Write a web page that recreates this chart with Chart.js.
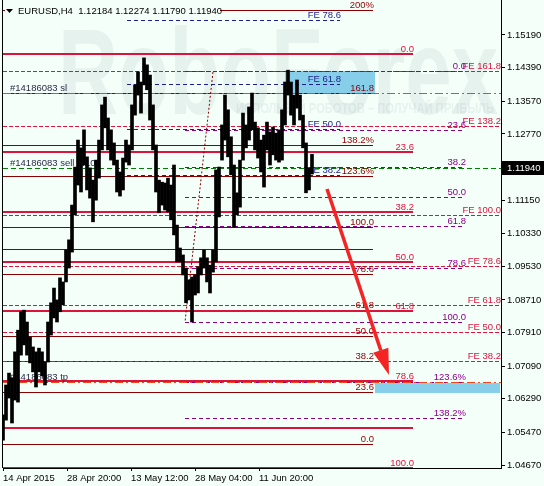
<!DOCTYPE html>
<html>
<head>
<meta charset="utf-8">
<script src="https://cdn.jsdelivr.net/npm/chart.js@4.4.0/dist/chart.umd.min.js"></script>
<style>
  html, body { margin: 0; padding: 0; background: #f5fffa; }
  #wrap { width: 544px; height: 486px; }
</style>
</head>
<body>
<div id="wrap"><canvas id="priceChart" width="544" height="486"></canvas></div>
<script>
// --------- DATA ----------
const seriesTitle = "EURUSD,H4  1.12184 1.12274 1.11790 1.11940";
const lastPrice = 1.11940;
const barStep = 3; // one sample every 3 H4 bars

const barLows = [
  1.0528, 1.0577, 1.0631, 1.0570, 1.0626, 1.0621, 1.0736, 1.0761, 1.0736, 1.0717,
  1.0695, 1.0658, 1.0695, 1.0685, 1.0663, 1.0719, 1.0785, 1.0827, 1.0817, 1.0842,
  1.0859, 1.0915, 1.0949, 1.0988, 1.1079, 1.1152, 1.1135, 1.1201, 1.1140, 1.1120,
  1.1062, 1.1115, 1.1169, 1.1238, 1.1292, 1.1238, 1.1213, 1.1201, 1.1135, 1.1125,
  1.1140, 1.1208, 1.1201, 1.1238, 1.1323, 1.1372, 1.1328, 1.1397, 1.1385, 1.1311,
  1.1238, 1.1135, 1.1084, 1.1103, 1.1091, 1.1086, 1.1067, 1.1030, 1.0964, 1.0964,
  1.0932, 1.0864, 1.0871, 1.0817, 1.0883, 1.0888, 1.0932, 1.0949, 1.0915, 1.0888,
  1.0939, 1.0964, 1.1074, 1.1213, 1.1262, 1.1221, 1.1177, 1.1049, 1.1079, 1.1098,
  1.1213, 1.1243, 1.1262, 1.1287, 1.1238, 1.1218, 1.1184, 1.1147, 1.1238, 1.1201,
  1.1226, 1.1213, 1.1208, 1.1213, 1.1299, 1.1372, 1.1323, 1.1299, 1.1340, 1.1311,
  1.1243, 1.1133, 1.1140, 1.1179
];
const barHighs = [
  1.0590, 1.0663, 1.0692, 1.0680, 1.0744, 1.0797, 1.0842, 1.0846, 1.0817, 1.0780,
  1.0756, 1.0744, 1.0753, 1.0744, 1.0719, 1.0817, 1.0864, 1.0900, 1.0871, 1.0925,
  1.0915, 1.0993, 1.1018, 1.1103, 1.1196, 1.1262, 1.1243, 1.1287, 1.1221, 1.1194,
  1.1164, 1.1213, 1.1262, 1.1348, 1.1367, 1.1316, 1.1287, 1.1255, 1.1213, 1.1184,
  1.1218, 1.1262, 1.1250, 1.1348, 1.1397, 1.1429, 1.1404, 1.1463, 1.1446, 1.1421,
  1.1348, 1.1250, 1.1164, 1.1159, 1.1157, 1.1169, 1.1152, 1.1201, 1.1054, 1.0998,
  1.0981, 1.0949, 1.0920, 1.0927, 1.0932, 1.0952, 1.0974, 1.0993, 1.0974, 1.0956,
  1.0993, 1.1189, 1.1196, 1.1299, 1.1372, 1.1336, 1.1270, 1.1201, 1.1133, 1.1213,
  1.1328, 1.1299, 1.1343, 1.1377, 1.1306, 1.1292, 1.1262, 1.1274, 1.1306, 1.1282,
  1.1294, 1.1279, 1.1287, 1.1336, 1.1404, 1.1433, 1.1404, 1.1372, 1.1409, 1.1372,
  1.1323, 1.1255, 1.1194, 1.1227
];

const timeTickBars = [0, 64, 128, 192, 256];
const timeTickLabels = ["14 Apr 2015", "28 Apr 20:00", "13 May 12:00", "28 May 04:00", "11 Jun 20:00"];
const priceTicks = [1.15190, 1.14390, 1.13570, 1.12770, 1.11950, 1.11150, 1.10330,
                    1.09530, 1.08710, 1.07910, 1.07090, 1.06290, 1.05470, 1.04670];

// fibo levels
const retrPrices = [1.14725, 1.12340, 1.10861, 1.09638, 1.08439, 1.06727, 1.04599, 1.05578];
const retrLabels = ["0.0", "23.6", "38.2", "50.0", "61.8", "78.6", "100.0", ""];
const fibo2Prices = [1.15801, 1.13771, 1.12499, 1.11741, 1.10494, 1.09956, 1.09344, 1.08464, 1.07827, 1.07216, 1.06458, 1.05186];
const fibo2Labels = ["200%", "161.8", "138.2%", "123.6%", "100.0", "", "78.6", "61.8", "50.0", "38.2", "23.6", "0.0"];
const fibo3Prices = [1.14309, 1.12866, 1.11961, 1.11227, 1.10518, 1.09491, 1.08170, 1.06703, 1.05822];
const fibo3Labels = ["0.0", "23.6", "38.2", "50.0", "61.8", "78.6", "100.0", "123.6%", "138.2%"];
const feRedPrices = [1.14309, 1.12964, 1.10787, 1.09540, 1.08586, 1.07925, 1.07216];
const feRedLabels = ["FE 161.8", "FE 138.2", "FE 100.0", "FE 78.6", "FE 61.8", "FE 50.0", "FE 38.2"];
const feBluePrices = [1.15557, 1.13991, 1.12891, 1.11766];
const feBlueLabels = ["FE 78.6", "FE 61.8", "FE 50.0", "FE 38.2"];

// orders
const orderPrices = [1.13771, 1.11940, 1.06703];
const orderLabels = ["#14186083 sl", "#14186083 sell 0.10", "#14186083 tp"];

// zones, trend line, arrow (bar index / price)
const zoneStart = [282, 372];
const zoneEnd = [372, 497];
const zoneHigh = [1.14309, 1.06678];
const zoneLow = [1.13747, 1.06433];
const trendTime = [210, 182];
const trendPrice = [1.14285, 1.08170];
const arrowTime = [324, 386];
const arrowPrice = [1.11423, 1.06874];

// --------- STYLES ----------
const FONT = "'Liberation Sans', Arial, sans-serif";
const BG = "#f5fffa";
const levelSets = [
  { prices: fibo2Prices, labels: fibo2Labels, from: 0, to: 370, color: "#8b0000", width: 1, dash: [] },
  { prices: retrPrices, labels: retrLabels, from: 0, to: 410, color: "#dc143c", width: 2, dash: [] },
  { prices: feRedPrices, labels: feRedLabels, from: 0, to: 497, color: "#dc143c", width: 1, dash: [4, 2] },
  { prices: feBluePrices, labels: feBlueLabels, from: 124, to: 337, color: "#1e1e8c", width: 1, dash: [4, 3] },
  { prices: fibo3Prices, labels: fibo3Labels, from: 182, to: 462, color: "#8b008b", width: 1, dash: [4, 3] }
];
const orderStyles = [
  { color: "#f2461a", dash: [8, 3, 2, 3] },
  { color: "#008000", dash: [5, 3] },
  { color: "#f2461a", dash: [8, 3, 2, 3] }
];

function hLine(ctx, xs, ys, t0, t1, price, st) {
  const py = Math.round(ys.getPixelForValue(price)) + (st.width % 2 ? 0.5 : 0);
  ctx.strokeStyle = st.color;
  ctx.lineWidth = st.width;
  ctx.setLineDash(st.dash);
  ctx.beginPath();
  ctx.moveTo(xs.getPixelForValue(t0), py);
  ctx.lineTo(xs.getPixelForValue(t1), py);
  ctx.stroke();
  return py;
}

// --------- PLUGIN: OBJECTS ON CHART ----------
const objectsPlugin = {
  id: "mtObjects",
  beforeDraw(chart) {
    const { ctx, width, height } = chart;
    ctx.save();
    ctx.fillStyle = BG;
    ctx.fillRect(0, 0, width, height);
    // watermark
    ctx.fillStyle = "rgba(150,165,172,0.15)";
    ctx.font = "bold 122px " + FONT;
    ctx.textBaseline = "alphabetic";
    ctx.fillText("RoboForex", 58, 114, 440);
    ctx.font = "bold 14px " + FONT;
    ctx.fillText("ИСПОЛЬЗУЙ РОБОТОВ – ПОЛУЧАЙ ПРИБЫЛЬ", 236, 113, 258);
    ctx.restore();
  },
  beforeDatasetsDraw(chart) {
    const { ctx, chartArea: a, scales: { x: xs, y: ys } } = chart;
    ctx.save();
    ctx.beginPath();
    ctx.rect(a.left, a.top, a.right - a.left, a.bottom - a.top);
    ctx.clip();

    // zones
    ctx.fillStyle = "#87ceeb";
    zoneStart.forEach((t0, i) => {
      const x0 = xs.getPixelForValue(t0), x1 = xs.getPixelForValue(zoneEnd[i]);
      const y0 = ys.getPixelForValue(zoneHigh[i]), y1 = ys.getPixelForValue(zoneLow[i]);
      ctx.fillRect(x0, y0, x1 - x0, y1 - y0);
    });

    // level lines
    levelSets.forEach(st => st.prices.forEach(p => hLine(ctx, xs, ys, st.from, st.to, p, st)));

    // order lines
    orderPrices.forEach((p, i) => hLine(ctx, xs, ys, 0, 498, p, { color: orderStyles[i].color, width: 1, dash: orderStyles[i].dash }));

    // trend line (dotted)
    ctx.strokeStyle = "#8b0000";
    ctx.lineWidth = 1;
    ctx.setLineDash([2, 2]);
    ctx.beginPath();
    ctx.moveTo(xs.getPixelForValue(trendTime[0]), ys.getPixelForValue(trendPrice[0]));
    ctx.lineTo(xs.getPixelForValue(trendTime[1]), ys.getPixelForValue(trendPrice[1]));
    ctx.stroke();
    ctx.setLineDash([]);

    // labels
    ctx.font = "9.5px " + FONT;
    ctx.textBaseline = "alphabetic";
    ctx.textAlign = "right";
    levelSets.forEach(st => st.prices.forEach((p, i) => {
      if (!st.labels[i]) return;
      ctx.fillStyle = st.color;
      ctx.fillText(st.labels[i], xs.getPixelForValue(st.to) + 1, Math.round(ys.getPixelForValue(p)) - 2);
    }));
    ctx.textAlign = "left";
    ctx.fillStyle = "#2b2b45";
    orderPrices.forEach((p, i) => {
      ctx.fillText(orderLabels[i], a.left + 7, Math.round(ys.getPixelForValue(p)) - 2);
    });
    ctx.restore();
  },
  afterDatasetsDraw(chart) {
    const { ctx, scales: { x: xs, y: ys } } = chart;
    const x0 = xs.getPixelForValue(arrowTime[0]), y0 = ys.getPixelForValue(arrowPrice[0]);
    const x1 = xs.getPixelForValue(arrowTime[1]), y1 = ys.getPixelForValue(arrowPrice[1]);
    const ang = Math.atan2(y1 - y0, x1 - x0);
    const headLen = 26, headW = 8;
    const bx = x1 - headLen * Math.cos(ang), by = y1 - headLen * Math.sin(ang);
    ctx.save();
    ctx.strokeStyle = "#f52424";
    ctx.fillStyle = "#f52424";
    ctx.lineWidth = 3.5;
    ctx.beginPath();
    ctx.moveTo(x0, y0);
    ctx.lineTo(bx, by);
    ctx.stroke();
    ctx.beginPath();
    ctx.moveTo(x1, y1);
    ctx.lineTo(bx + headW * Math.sin(ang), by - headW * Math.cos(ang));
    ctx.lineTo(bx - headW * Math.sin(ang), by + headW * Math.cos(ang));
    ctx.closePath();
    ctx.fill();
    ctx.restore();
  },
  afterDraw(chart) {
    const { ctx, chartArea: a, scales: { y: ys } } = chart;
    ctx.save();
    // left border
    ctx.strokeStyle = "#000";
    ctx.lineWidth = 1;
    ctx.beginPath();
    ctx.moveTo(a.left - 0.5, a.top);
    ctx.lineTo(a.left - 0.5, a.bottom);
    ctx.stroke();
    // header
    ctx.fillStyle = BG;
    ctx.fillRect(5, 3, 215, 14);
    ctx.fillStyle = "#000";
    ctx.beginPath();
    ctx.moveTo(6, 9); ctx.lineTo(13, 9); ctx.lineTo(9.5, 13); ctx.closePath();
    ctx.fill();
    ctx.font = "9.5px " + FONT;
    ctx.textBaseline = "alphabetic";
    ctx.textAlign = "left";
    ctx.fillText(seriesTitle, 18, 14);
    // current price box
    const py = Math.round(ys.getPixelForValue(lastPrice));
    ctx.fillStyle = "#000";
    ctx.fillRect(a.right + 1, py - 7, 544 - a.right, 14);
    ctx.fillStyle = "#fff";
    ctx.textBaseline = "middle";
    ctx.fillText(lastPrice.toFixed(5), a.right + 6, py + 0.5);
    ctx.restore();
  }
};

// --------- CHART ----------
Chart.defaults.font.family = FONT;
Chart.defaults.font.size = 9.5;
Chart.defaults.color = "#000";

new Chart(document.getElementById("priceChart"), {
  type: "bar",
  data: {
    datasets: [{
      label: "EURUSD",
      data: barLows.map((lo, i) => ({ x: i * barStep, y: [lo, barHighs[i]] })),
      backgroundColor: "#000",
      borderWidth: 0,
      barThickness: 3,
      grouped: false
    }]
  },
  options: {
    responsive: false,
    animation: false,
    layout: { padding: { left: 3, top: 0, right: 0, bottom: 0 } },
    plugins: { legend: { display: false }, tooltip: { enabled: false } },
    scales: {
      x: {
        type: "linear",
        min: 0,
        max: 498,
        offset: false,
        afterBuildTicks: s => { s.ticks = timeTickBars.map(v => ({ value: v })); },
        afterFit: s => { s.height = 18; s.paddingLeft = 0; s.paddingRight = 0; },
        ticks: {
          autoSkip: false, maxRotation: 0, align: "start", padding: 2,
          callback: (v, i) => timeTickLabels[i]
        },
        grid: { offset: false, drawOnChartArea: false, drawTicks: true, tickLength: 3, color: "#000" },
        border: { display: true, color: "#000" }
      },
      y: {
        position: "right",
        min: 1.04599,
        max: 1.16046,
        afterBuildTicks: s => { s.ticks = priceTicks.map(v => ({ value: v })); },
        afterFit: s => { s.width = 43; s.paddingTop = 0; s.paddingBottom = 0; },
        ticks: { padding: 2, callback: v => v.toFixed(5) },
        grid: { drawOnChartArea: false, drawTicks: true, tickLength: 4, color: "#000" },
        border: { display: true, color: "#000" }
      }
    }
  },
  plugins: [objectsPlugin]
});
</script>
</body>
</html>
